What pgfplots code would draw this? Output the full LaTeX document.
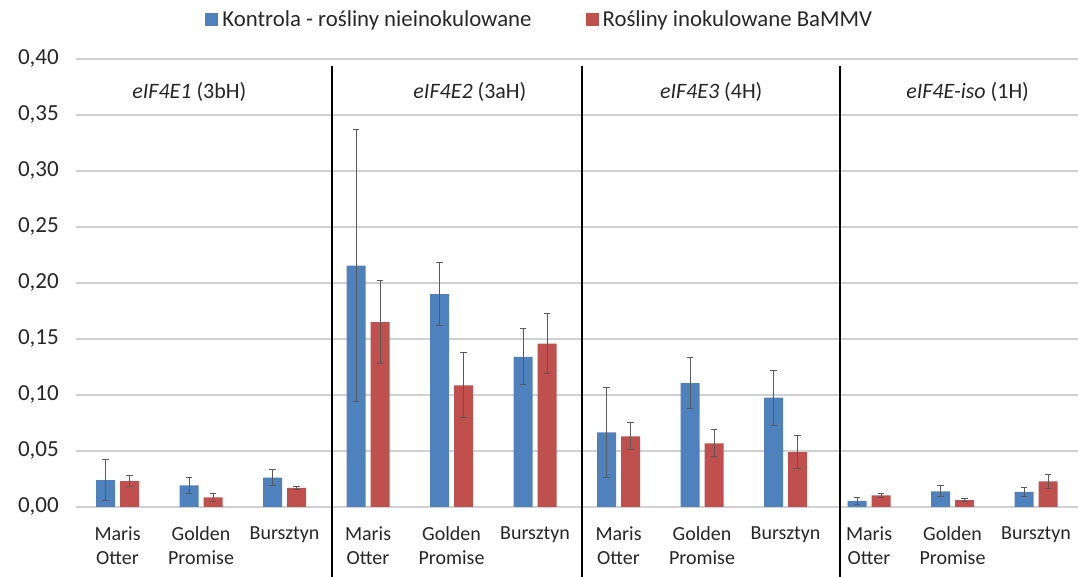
\documentclass[border=0pt]{standalone}
\usepackage{fontspec}
\setmainfont{Carlito}
\usepackage{pgfplots}
\pgfplotsset{compat=1.18}
\usepackage{pgfplotstable}
\definecolor{xblue}{HTML}{4F81BD}
\definecolor{xred}{HTML}{C0504D}
\definecolor{errc}{HTML}{595959}

\pgfplotstableread{
x y e
0 0.0240 0.0180
1 0.0194 0.0070
2 0.0262 0.0070
3 0.2155 0.1215
4 0.1900 0.0280
5 0.1340 0.0250
6 0.0667 0.0400
7 0.1107 0.0226
8 0.0976 0.0245
9 0.0054 0.0030
10 0.0140 0.0048
11 0.0134 0.0036
}\blueT

\pgfplotstableread{
x y e
0 0.0230 0.0050
1 0.0087 0.0037
2 0.0170 0.0015
3 0.1650 0.0370
4 0.1087 0.0290
5 0.1458 0.0270
6 0.0630 0.0120
7 0.0569 0.0120
8 0.0490 0.0150
9 0.0104 0.0020
10 0.0062 0.0015
11 0.0229 0.0063
}\redT

\begin{document}
\begin{tikzpicture}
\begin{axis}[name=ax,
  scale only axis, width=501pt, height=224pt,
  xmin=-0.5, xmax=11.5, ymin=0, ymax=0.40,
  ytick={0,0.05,0.10,0.15,0.20,0.25,0.30,0.35,0.40},
  ymajorgrids, grid style={draw=black!18, line width=0.6pt},
  axis line style={draw=none}, major tick length=0pt,
  xtick={0,...,11},
  xticklabels={{Maris\\Otter},{Golden\\Promise},Bursztyn,{Maris\\Otter},{Golden\\Promise},Bursztyn,{Maris\\Otter},{Golden\\Promise},Bursztyn,{Maris\\Otter},{Golden\\Promise},Bursztyn},
  xticklabel style={align=center, font=\fontsize{10}{11.6}\selectfont, yshift=-6.5pt, text=black!85},
  yticklabel style={font=\fontsize{11.5}{12}\selectfont, xshift=-5pt, text=black!85,
    /pgf/number format/.cd, fixed, fixed zerofill, precision=2, use comma},
  /pgf/number format/assume math mode=true,
  ybar, bar width=0.227,
  clip=false,
  legend style={at={(0.464,1.087)}, anchor=center, draw=none, fill=none,
    legend columns=2, font=\fontsize{11.4}{12}\selectfont, text=black!85,
    /tikz/every even column/.append style={column sep=25pt}},
  legend image code/.code={\fill[#1] (0pt,-3.0pt) rectangle (6.5pt,3.5pt);},
]
\addplot[ybar, fill=xblue, draw=none, bar shift=-0.144,
  error bars/.cd, y dir=both, y explicit,
  error bar style={errc, line width=0.5pt},
  error mark options={rotate=90, mark size=1.6pt, errc, line width=0.5pt}]
  table[x=x, y=y, y error=e]{\blueT};
\addlegendentry{Kontrola - rośliny nieinokulowane}
\addplot[ybar, fill=xred, draw=none, bar shift=0.144,
  error bars/.cd, y dir=both, y explicit,
  error bar style={errc, line width=0.5pt},
  error mark options={rotate=90, mark size=1.6pt, errc, line width=0.5pt}]
  table[x=x, y=y, y error=e]{\redT};
\addlegendentry{Rośliny inokulowane BaMMV}

\draw[line width=1.2pt, black] (axis cs:2.57,0.394) -- (axis cs:2.57,-0.07);
\draw[line width=1.2pt, black] (axis cs:5.56,0.394) -- (axis cs:5.56,-0.07);
\draw[line width=1.2pt, black] (axis cs:8.65,0.394) -- (axis cs:8.65,-0.07);
\node[font=\fontsize{11}{12}\selectfont, text=black!85] at (axis cs:0.86,0.3706) {\textit{eIF4E1} (3bH)};
\node[font=\fontsize{11}{12}\selectfont, text=black!85] at (axis cs:4.22,0.3706) {\textit{eIF4E2} (3aH)};
\node[font=\fontsize{11}{12}\selectfont, text=black!85] at (axis cs:7.11,0.3706) {\textit{eIF4E3} (4H)};
\node[font=\fontsize{11}{12}\selectfont, text=black!85] at (axis cs:10.18,0.3706) {\textit{eIF4E-iso} (1H)};
\end{axis}
\pgfresetboundingbox
\path[use as bounding box] ([xshift=-37.9pt, yshift=-35pt]ax.south west) rectangle ++(539pt,288.5pt);
\end{tikzpicture}
\end{document}
